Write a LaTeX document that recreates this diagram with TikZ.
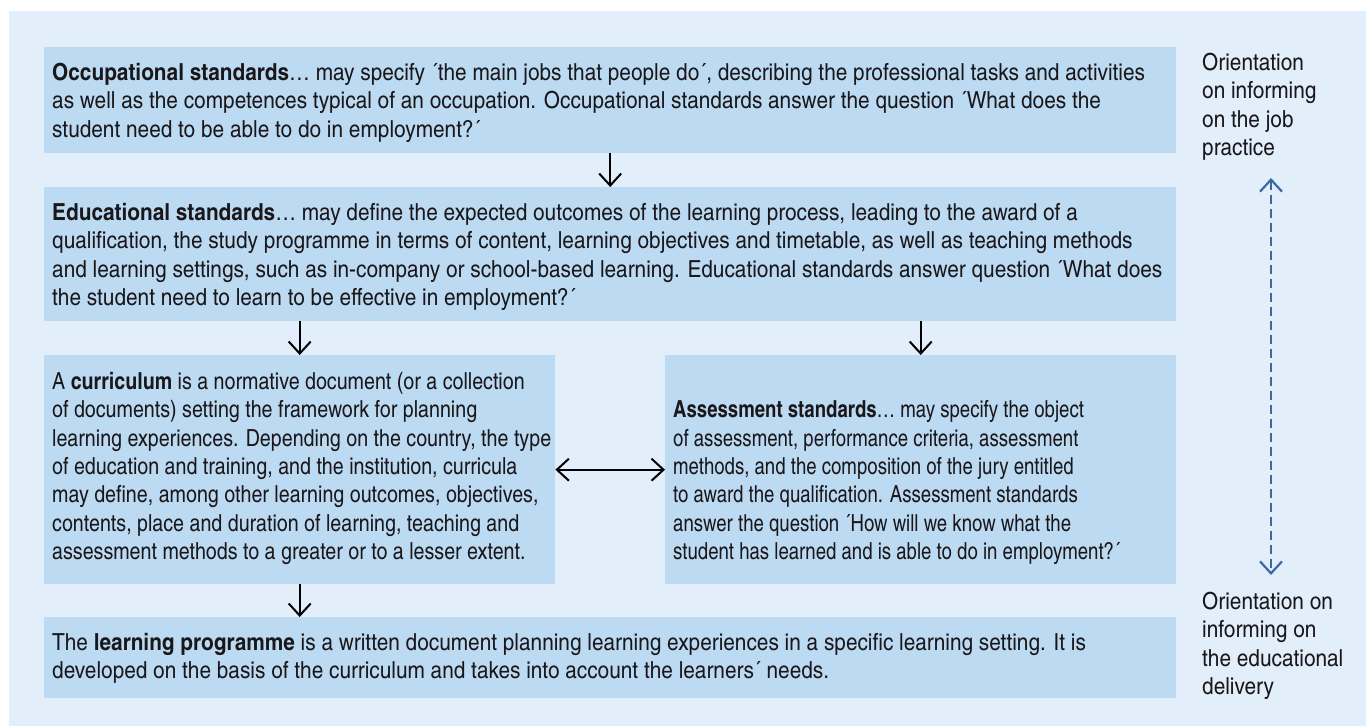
\documentclass[tikz,border=0pt]{standalone}
\usepackage{fontspec}
\setmainfont{texgyreheroscn}[Extension=.otf, UprightFont=*-regular, BoldFont=*-bold, ItalicFont=*-italic, BoldItalicFont=*-bolditalic]
\newfontfamily\fwide{texgyreheroscn}[Extension=.otf, UprightFont=*-regular, BoldFont=*-bold, FakeStretch=1.08]
\newfontfamily\fcurr{texgyreheroscn}[Extension=.otf, UprightFont=*-regular, BoldFont=*-bold, FakeStretch=1.02]
\newfontfamily\fassess{texgyreheroscn}[Extension=.otf, UprightFont=*-regular, BoldFont=*-bold, FakeStretch=0.965]
\usetikzlibrary{arrows.meta}
\definecolor{bgc}{RGB}{226,238,250}
\definecolor{boxc}{RGB}{189,218,243}
\definecolor{dashc}{RGB}{58,106,162}
\definecolor{txtc}{RGB}{25,23,25}
\newcommand{\topstrut}{\rule{0pt}{19pt}}
\tikzset{
  boxstyle/.style={fill=boxc, draw=none, inner sep=0pt, anchor=north west},
  txtstyle/.style={anchor=north west, inner sep=0pt, align=left, text=txtc,
    font=\fwide\fontsize{23.5pt}{28.4pt}\selectfont},
  currfont/.style={font=\fcurr\fontsize{23.5pt}{28.4pt}\selectfont},
  assessfont/.style={font=\fassess\fontsize{23.5pt}{28.4pt}\selectfont},
  arr/.style={draw=black, line width=2pt, -{Straight Barb[length=12pt,width=22pt]}},
  darr/.style={draw=black, line width=2pt, {Straight Barb[length=12pt,width=22pt]}-{Straight Barb[length=12pt,width=22pt]}},
  dasharr/.style={draw=dashc, line width=2.2pt, dash pattern=on 9pt off 5pt,
    {Straight Barb[length=12pt,width=22pt]}-{Straight Barb[length=12pt,width=22pt]}}
}
\begin{document}
\begin{tikzpicture}[x=1pt,y=-1pt]
\useasboundingbox (0,0) rectangle (1366,726);
\fill[bgc] (9,11) rectangle (1366,726);

% boxes
\node[boxstyle, minimum width=1132pt, minimum height=106pt] (occ) at (44,47) {};
\node[boxstyle, minimum width=1132pt, minimum height=134pt] (edu) at (44,187) {};
\node[boxstyle, minimum width=511pt, minimum height=229pt] (curr) at (44,355) {};
\node[boxstyle, minimum width=511pt, minimum height=229pt] (assess) at (665,355) {};
\node[boxstyle, minimum width=1132pt, minimum height=81pt] (lp) at (44,617) {};

% texts
\node[txtstyle] (occtxt) at (52,61) {\topstrut\textbf{Occupational standards}… may specify ´the main jobs that people do´, describing the professional tasks and activities\\
as well as the competences typical of an occupation. Occupational standards answer the question ´What does the\\
student need to be able to do in employment?´};

\node[txtstyle] (edutxt) at (52,201) {\topstrut\textbf{Educational standards}… may define the expected outcomes of the learning process, leading to the award of a\\
qualification, the study programme in terms of content, learning objectives and timetable, as well as teaching methods\\
and learning settings, such as in-company or school-based learning. Educational standards answer question ´What does\\
the student need to learn to be effective in employment?´};

\node[txtstyle, currfont] (currtxt) at (52,370) {\topstrut A \textbf{curriculum} is a normative document (or a collection\\
of documents) setting the framework for planning\\
learning experiences. Depending on the country, the type\\
of education and training, and the institution, curricula\\
may define, among other learning outcomes, objectives,\\
contents, place and duration of learning, teaching and\\
assessment methods to a greater or to a lesser extent.};

\node[txtstyle, assessfont] (assesstxt) at (673,398.5) {\topstrut\textbf{Assessment standards}… may specify the object\\
of assessment, performance criteria, assessment\\
methods, and the composition of the jury entitled\\
to award the qualification. Assessment standards\\
answer the question ´How will we know what the\\
student has learned and is able to do in employment?´};

\node[txtstyle] (lptxt) at (52,631) {\topstrut The \textbf{learning programme} is a written document planning learning experiences in a specific learning setting. It is\\
developed on the basis of the curriculum and takes into account the learners´ needs.};

\node[txtstyle] (jobtxt) at (1202,51) {\topstrut Orientation\\on informing\\on the job\\practice};
\node[txtstyle] (edtxt) at (1202,590) {\topstrut Orientation on\\informing on\\the educational\\delivery};

% connectors
\draw[arr] (occ.south) -- (edu.north);
\draw[arr] (edu.south -| curr.north) -- (curr.north);
\draw[arr] (edu.south -| assess.north) -- (assess.north);
\draw[arr] (curr.south) -- (curr.south |- lp.north);
\draw[darr] (curr.east) -- (assess.west);

\coordinate (dtop) at (1271,178);
\coordinate (dbot) at (1271,575);
\draw[dasharr] (dtop) -- (dbot);
\end{tikzpicture}
\end{document}
